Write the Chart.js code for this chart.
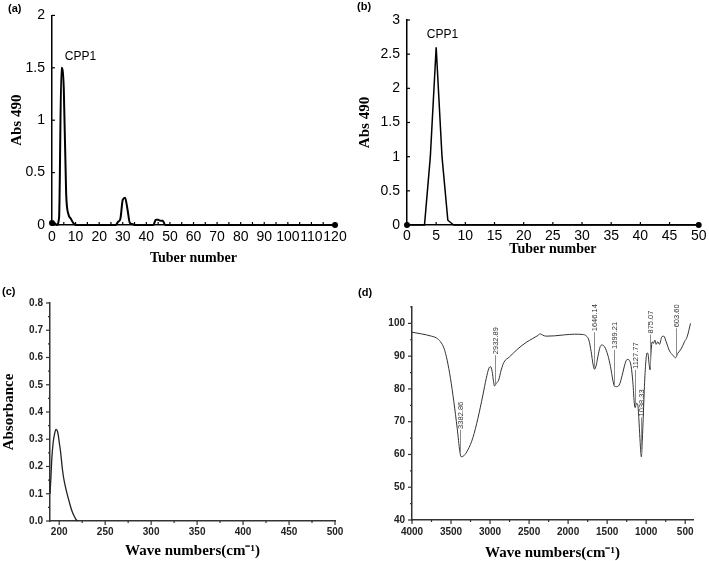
<!DOCTYPE html>
<html>
<head>
<meta charset="utf-8">
<script src="https://cdn.jsdelivr.net/npm/chart.js@4.4.1/dist/chart.umd.min.js"></script>
<style>
  body { margin: 0; background: #fff; }
  #page { position: relative; width: 709px; height: 561px; overflow: hidden; background: #fff; }
  #page canvas { position: absolute; }
  .tag { position: absolute; font: bold 11px "Liberation Sans", Arial, sans-serif; color: #000; line-height: 1; }
</style>
</head>
<body>
<div id="page">
  <canvas id="chartA" width="355" height="270" style="left:0;top:0"></canvas>
  <canvas id="chartB" width="354" height="270" style="left:355px;top:0"></canvas>
  <canvas id="chartC" width="355" height="291" style="left:0;top:270px"></canvas>
  <canvas id="chartD" width="354" height="291" style="left:355px;top:270px"></canvas>
  <div class="tag" style="left:8px;top:3px">(a)</div>
  <div class="tag" style="left:357px;top:1px">(b)</div>
  <div class="tag" style="left:2px;top:286px">(c)</div>
  <div class="tag" style="left:358px;top:287px">(d)</div>
</div>
<script>
// (a) elution curve, first column
const tuberA = [0, 1, 2, 3, 4, 5, 6, 7, 8, 9, 10, 27, 28, 29, 30, 31, 32, 33, 34, 35, 43, 44, 45, 46, 47, 48, 120];
const absA = [0.02, 0.02, 0, 0.07, 1.5, 1.3, 0.3, 0.1, 0.06, 0.02, 0, 0, 0.03, 0.06, 0.24, 0.26, 0.15, 0.02, 0.01, 0, 0, 0.05, 0.05, 0.04, 0.04, 0, 0];
const xTicksA = [0, 10, 20, 30, 40, 50, 60, 70, 80, 90, 100, 110, 120];
const xMarksA = [0, 5, 10, 15, 20, 25, 30, 35, 40, 45, 50, 55, 60, 65, 70, 75, 80, 85, 90, 95, 100, 105, 110, 115, 120];
const yTicksA = [0, 0.5, 1, 1.5, 2];

// (b) elution curve, second column
const tuberB = [0, 1, 2, 3, 4, 5, 6, 7, 8, 50];
const absB = [0, 0, 0, 0, 1.0, 2.6, 1.0, 0.07, 0, 0];
const xTicksB = [0, 5, 10, 15, 20, 25, 30, 35, 40, 45, 50];
const yTicksB = [0, 0.5, 1, 1.5, 2, 2.5, 3];

// (c) UV scan
const waveC = [190, 191, 192, 193.5, 195, 196.5, 198, 199, 200, 201.5, 203.5, 205, 206.5, 208, 210, 212, 214, 216, 218, 220];
const absC = [0.1, 0.16, 0.23, 0.29, 0.32, 0.336, 0.33, 0.315, 0.29, 0.254, 0.19, 0.155, 0.13, 0.108, 0.082, 0.057, 0.036, 0.02, 0.007, 0];
const xTicksC = [200, 250, 300, 350, 400, 450, 500];
const xMinorC = [225, 275, 325, 375, 425, 475];
const yTicksC = [0, 0.1, 0.2, 0.3, 0.4, 0.5, 0.6, 0.7, 0.8];
const yMinorC = [0.05, 0.15, 0.25, 0.35, 0.45, 0.55, 0.65, 0.75];

// (d) FT-IR spectrum
const waveD = [4000, 3880, 3750, 3690, 3635, 3590, 3550, 3507, 3464, 3421, 3387, 3370, 3336, 3284, 3220, 3156, 3092, 3049, 3015, 2994,
  2973, 2955, 2943, 2920, 2890, 2857, 2823, 2750, 2645, 2537, 2452, 2388, 2358, 2324, 2281, 2174, 2046, 1918, 1811, 1769,
  1734, 1705, 1679, 1662, 1641, 1619, 1589, 1568, 1534, 1491, 1457, 1427, 1406, 1380, 1345, 1307, 1269, 1243, 1218, 1192,
  1171, 1150, 1141, 1125, 1107, 1094, 1080, 1068, 1062, 1050, 1035, 1018, 1000, 987, 975, 962, 950, 940, 923, 906,
  889, 872, 851, 829, 799, 774, 744, 701, 658, 624, 594, 552, 509, 475, 432];
const transD = [97.3, 96.8, 96.1, 95.6, 94.4, 92.4, 88.8, 83.2, 76.1, 68, 60.9, 59.3, 59.6, 61.4, 65.1, 71, 78.1, 83.2, 86.3, 86.8,
  85.3, 82.2, 80.9, 81.7, 82.7, 85.8, 88.1, 89.8, 92.2, 94.2, 95.4, 96.3, 96.8, 96.4, 96.1, 96.2, 96.5, 96.7, 96.6, 96.2,
  94.9, 91.4, 87.3, 86, 87.1, 89.8, 92.9, 93.4, 92.9, 90.3, 86.8, 82.7, 80.8, 80.7, 81.2, 84.2, 87.8, 89, 88.8, 86.8,
  82.2, 75.1, 74.3, 75.6, 75.1, 71, 64.9, 60.5, 59.3, 64, 73, 83, 89.5, 91, 90.5, 87.5, 85.8, 90.3, 94.4, 93.9,
  94.9, 93.6, 94.4, 93.6, 95.9, 96.1, 94.4, 91.6, 90.3, 89.5, 90.9, 92.2, 94.4, 95.9, 100];
const xTicksD = [500, 1000, 1500, 2000, 2500, 3000, 3500, 4000];
const xMinorD = [750, 1250, 1750, 2250, 2750, 3250, 3750];
const yTicksD = [40, 50, 60, 70, 80, 90, 100];
const yMinorD = [45, 55, 65, 75, 85, 95, 105];
const peakWave = [3380, 2943, 1662, 1406, 1141, 1064, 948, 624];
const peakText = ['3382.86', '2932.89', '1646.14', '1399.21', '1127.77', '1038.33', '875.07', '603.60'];
const peakFrom = [60.2, 81.3, 86.5, 81.2, 74.8, 60, 86.5, 89.9];
const peakTo = [67.5, 90.3, 97.3, 91.9, 85.8, 71.3, 96.6, 98.5];

const sansFont = '"Liberation Sans", Arial, sans-serif';
const serifFont = '"Liberation Serif", "Times New Roman", serif';

const tickMarks = {
    id: 'tickMarks',
    afterDraw(chart, args, opts) {
        const { ctx, chartArea } = chart;
        ctx.save();
        ctx.strokeStyle = opts.color || '#000';
        ctx.lineWidth = opts.width || 1;
        (opts.marks || []).forEach(m => {
            const scale = chart.scales[m.axis];
            m.values.forEach(v => {
                const p = scale.getPixelForValue(v);
                ctx.beginPath();
                if (m.axis === 'x') {
                    const y0 = chartArea.bottom;
                    ctx.moveTo(p, y0);
                    ctx.lineTo(p, y0 + (m.out ? m.len : -m.len));
                } else {
                    const x0 = chartArea.left;
                    ctx.moveTo(x0, p);
                    ctx.lineTo(x0 + (m.out ? -m.len : m.len), p);
                }
                ctx.stroke();
            });
        });
        ctx.restore();
    }
};

const noteText = {
    id: 'noteText',
    afterDatasetsDraw(chart, args, opts) {
        if (!opts.notes) return;
        const { ctx, scales } = chart;
        ctx.save();
        ctx.fillStyle = '#000';
        ctx.font = '12px ' + sansFont;
        ctx.textAlign = 'left';
        ctx.textBaseline = 'middle';
        opts.notes.forEach(n => {
            ctx.fillText(n.text, scales.x.getPixelForValue(n.x), scales.y.getPixelForValue(n.y));
        });
        ctx.restore();
    }
};

const peakNotes = {
    id: 'peakNotes',
    afterDatasetsDraw(chart, args, opts) {
        if (!opts.show) return;
        const { ctx, scales: { x, y } } = chart;
        ctx.save();
        ctx.strokeStyle = '#8c8c8c';
        ctx.lineWidth = 1;
        ctx.fillStyle = '#333';
        ctx.font = '7.5px ' + sansFont;
        ctx.textAlign = 'left';
        ctx.textBaseline = 'middle';
        peakWave.forEach((w, i) => {
            const px = Math.round(x.getPixelForValue(w)) + 0.5;
            const y0 = y.getPixelForValue(peakFrom[i]);
            const y1 = y.getPixelForValue(peakTo[i]);
            ctx.beginPath();
            ctx.moveTo(px, y0);
            ctx.lineTo(px, y1);
            ctx.stroke();
            ctx.save();
            ctx.translate(px, y1 - 1);
            ctx.rotate(-Math.PI / 2);
            ctx.fillText(peakText[i], 0, 0);
            ctx.restore();
        });
        ctx.restore();
    }
};

function axis(o) {
    return {
        type: 'linear',
        min: o.min,
        max: o.max,
        reverse: !!o.reverse,
        afterBuildTicks: s => { s.ticks = o.ticks.map(v => ({ value: v })); },
        afterFit: s => { if (o.width) s.width = o.width; if (o.height) s.height = o.height; },
        grid: { display: false, drawTicks: false },
        border: { display: true, color: o.lineColor, width: 1.5 },
        ticks: {
            autoSkip: false,
            maxRotation: 0,
            padding: o.pad,
            color: o.tickColor,
            font: o.tickFont,
            callback: o.fmt || (v => String(v))
        },
        title: {
            display: !!o.title,
            text: o.title,
            color: '#000',
            font: { family: serifFont, size: o.titleSize || 15, weight: 'bold', lineHeight: 1 },
            padding: o.titlePad
        }
    };
}

function buildChart(id, o) {
    const n = o.xs.length;
    return new Chart(document.getElementById(id), {
        type: 'line',
        data: {
            datasets: [{
                data: o.xs.map((x, i) => ({ x: x, y: o.ys[i] })),
                borderColor: o.color,
                backgroundColor: o.color,
                borderWidth: o.lineWidth,
                cubicInterpolationMode: o.smooth ? 'monotone' : 'default',
                tension: 0,
                pointRadius: ctx => (o.endDots && (ctx.dataIndex === 0 || ctx.dataIndex === n - 1)) ? 3 : 0,
                pointBorderWidth: 0,
                clip: false
            }]
        },
        options: {
            responsive: false,
            animation: false,
            events: [],
            layout: { padding: o.padding },
            scales: { x: o.x, y: o.y },
            plugins: {
                legend: { display: false },
                tooltip: { enabled: false },
                tickMarks: { color: o.axisColor, width: 1.2, marks: o.marks },
                noteText: { notes: o.notes },
                peakNotes: { show: !!o.peaks }
            }
        },
        plugins: [tickMarks, noteText, peakNotes]
    });
}

const excelTick = { family: sansFont, size: 14 };
const originTick = { family: sansFont, size: 10, weight: 'bold' };

buildChart('chartA', {
    xs: tuberA, ys: absA, color: '#000', lineWidth: 2, smooth: true, endDots: true,
    padding: { left: 0, top: 12, right: 20, bottom: 0 },
    axisColor: '#000',
    x: axis({ min: 0, max: 120, ticks: xTicksA, height: 45, pad: 4, lineColor: '#000', tickColor: '#000', tickFont: excelTick,
        title: 'Tuber number', titleSize: 14, titlePad: { top: 0, bottom: 5 } }),
    y: axis({ min: 0, max: 2, ticks: yTicksA, width: 52, pad: 7, lineColor: '#000', tickColor: '#000', tickFont: excelTick,
        title: 'Abs 490', titlePad: { top: 9.5, bottom: 0 } }),
    marks: [{ axis: 'x', values: xMarksA, len: 3, out: false }, { axis: 'y', values: yTicksA, len: 3, out: false }],
    notes: [{ x: 5.4, y: 1.61, text: 'CPP1' }]
});

buildChart('chartB', {
    xs: tuberB, ys: absB, color: '#000', lineWidth: 1.5, smooth: false, endDots: true,
    padding: { left: 0, top: 20, right: 8, bottom: 0 },
    axisColor: '#000',
    x: axis({ min: 0, max: 50, ticks: xTicksB, height: 45, pad: 2.5, lineColor: '#000', tickColor: '#000', tickFont: excelTick,
        title: 'Tuber number', titleSize: 14, titlePad: { top: 0, bottom: 13.5 } }),
    y: axis({ min: 0, max: 3, ticks: yTicksB, width: 52, pad: 7, lineColor: '#000', tickColor: '#000', tickFont: excelTick,
        title: 'Abs 490', titlePad: { top: 2.5, bottom: 0 } }),
    marks: [{ axis: 'x', values: xTicksB, len: 3, out: false }, { axis: 'y', values: yTicksB, len: 3, out: false }],
    notes: [{ x: 3.4, y: 2.78, text: 'CPP1' }]
});

buildChart('chartC', {
    xs: waveC, ys: absC, color: '#222', lineWidth: 1.3, smooth: true, endDots: false,
    padding: { left: 0, top: 33, right: 20, bottom: 0 },
    axisColor: '#333',
    x: axis({ min: 190, max: 500, ticks: xTicksC, height: 40, pad: 5, lineColor: '#333', tickColor: '#222', tickFont: originTick,
        title: 'Wave numbers(cm⁻¹)', titlePad: { top: 0, bottom: 2.5 } }),
    y: axis({ min: 0, max: 0.8, ticks: yTicksC, width: 50, pad: 7, lineColor: '#333', tickColor: '#222', tickFont: originTick,
        title: 'Absorbance', titlePad: { top: 1.5, bottom: 0 }, fmt: v => v.toFixed(1) }),
    marks: [
        { axis: 'x', values: xTicksC, len: 4, out: true }, { axis: 'x', values: xMinorC, len: 2, out: true },
        { axis: 'y', values: yTicksC, len: 4, out: true }, { axis: 'y', values: yMinorC, len: 2, out: true }
    ]
});

buildChart('chartD', {
    xs: waveD, ys: transD, color: '#333', lineWidth: 1, smooth: true, endDots: false,
    padding: { left: 0, top: 37, right: 16, bottom: 0 },
    axisColor: '#333',
    x: axis({ min: 400, max: 4000, reverse: true, ticks: xTicksD, height: 41, pad: 6, lineColor: '#333', tickColor: '#222', tickFont: originTick,
        title: 'Wave numbers(cm⁻¹)', titlePad: { top: 0, bottom: 0 } }),
    y: axis({ min: 40, max: 105, ticks: yTicksD, width: 57, pad: 7, lineColor: '#333', tickColor: '#222', tickFont: originTick }),
    marks: [
        { axis: 'x', values: xTicksD, len: 4, out: true }, { axis: 'x', values: xMinorD, len: 2, out: true },
        { axis: 'y', values: yTicksD, len: 4, out: true }, { axis: 'y', values: yMinorD, len: 2, out: true }
    ],
    peaks: true
});
</script>
</body>
</html>
